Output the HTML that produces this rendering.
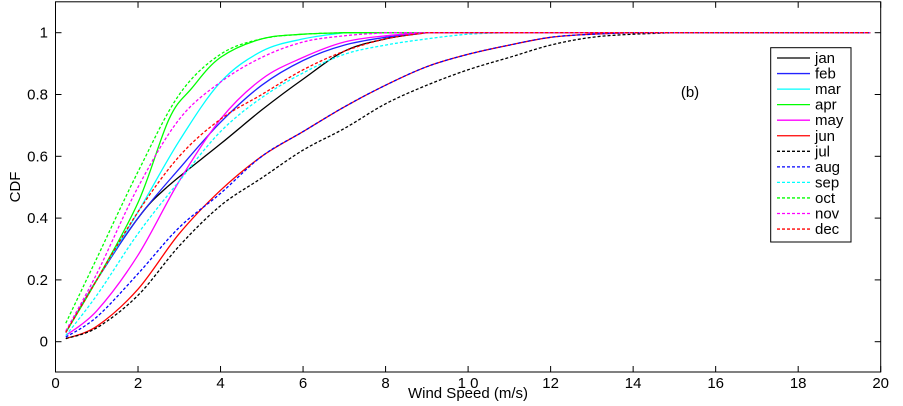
<!DOCTYPE html>
<html><head><meta charset="utf-8"><style>
html,body{margin:0;padding:0;background:#fff;}
svg{display:block;font-family:"Liberation Sans",Arial,sans-serif;}
</style></head><body>
<svg id="s" width="903" height="406" viewBox="0 0 903 406" xmlns="http://www.w3.org/2000/svg">
<rect x="0" y="0" width="903" height="406" fill="#fff"/>
<g id="curves"></g>
<rect x="55.5" y="1.8" width="825.2" height="370.2" fill="none" stroke="#000" stroke-width="1"/>
<g id="ticks" stroke="#000" stroke-width="1"></g>
<g id="labels" font-size="15" fill="#000"></g>
<text x="468" y="398" font-size="15" text-anchor="middle">Wind Speed (m/s)</text>
<text transform="translate(20,187) rotate(-90)" font-size="15" text-anchor="middle">CDF</text>
<text x="690" y="97" font-size="15" text-anchor="middle">(b)</text>
<rect x="770.7" y="47.7" width="80.3" height="194.3" fill="#fff" stroke="#000" stroke-width="1"/>
<g id="legend" font-size="15"></g>
</svg>
<script>
var X=function(v){return 55.5+v*41.26;}, Y=function(v){return 341.7-v*309;};
var NS="http://www.w3.org/2000/svg";
function el(p,t,a,txt){var e=document.createElementNS(NS,t);for(var k in a)e.setAttribute(k,a[k]);if(txt!=null)e.textContent=txt;p.appendChild(e);return e;}
var tk=document.getElementById('ticks'),lb=document.getElementById('labels');
for(var i=0;i<=20;i+=2){var x=X(i);el(tk,'line',{x1:x,y1:372,x2:x,y2:366});el(tk,'line',{x1:x,y1:1.8,x2:x,y2:7.8});el(lb,'text',{x:x,y:388,'text-anchor':'middle'},i==10?'1 0':String(i));}
for(var j=0;j<=5;j++){var v=j*0.2,y=Y(v);el(tk,'line',{x1:55.5,y1:y,x2:61.5,y2:y});el(tk,'line',{x1:880.7,y1:y,x2:874.7,y2:y});el(lb,'text',{x:48,y:y+5,'text-anchor':'end'},j==0?'0':j==5?'1':v.toFixed(1));}
var S=[
['jan','#000',0,[[.25,.03],[1,.2],[2,.4],[2.7,.5],[4,.64],[5,.75],[6,.85],[7,.94],[8,.98],[9,1]]],
['feb','#22f',0,[[.25,.03],[1,.2],[2,.4],[3,.56],[4,.71],[5,.83],[6,.91],[7,.96],[8,.985],[9,1]]],
['mar','#0ff',0,[[.25,.03],[1,.2],[2,.42],[3,.65],[4,.84],[5,.94],[6,.98],[7,1]]],
['apr','#0f0',0,[[.25,.03],[1,.2],[2,.45],[2.75,.72],[3.3,.82],[4,.92],[5,.98],[6,.995],[7,1]]],
['may','#f0f',0,[[.25,.02],[1,.1],[2,.28],[3,.52],[4,.72],[5,.85],[6,.92],[7,.97],[8,.99],[9,1]]],
['jun','#f00',0,[[.25,.01],[1,.05],[2,.17],[3,.35],[4,.49],[5,.6],[6,.68],[7,.76],[8,.83],[9,.89],[10,.93],[11,.96],[12,.985],[13,.995],[14,1]]],
['jul','#000',1,[[.25,.01],[1,.045],[2,.15],[3,.31],[4,.44],[5,.53],[6,.62],[7,.69],[8,.77],[9,.83],[10,.88],[11,.92],[12,.96],[13,.985],[14,.995],[15,1]]],
['aug','#00f',1,[[.25,.015],[1,.08],[2,.22],[3,.37],[4,.48],[5,.6],[6,.68],[7,.76],[8,.83],[9,.89],[10,.93],[11,.96],[12,.985],[13,.995],[14,1]]],
['sep','#0ff',1,[[.25,.02],[1,.15],[2,.35],[3,.52],[4,.68],[5,.79],[6,.87],[7,.93],[8,.96],[9,.98],[10,.995],[11,1]]],
['oct','#0f0',1,[[.25,.06],[1,.27],[2,.55],[3,.8],[4,.93],[5,.98],[6,.995],[7,1]]],
['nov','#f0f',1,[[.25,.035],[1,.22],[2,.5],[3,.72],[4,.84],[5,.92],[6,.97],[7,.99],[8,1]]],
['dec','#f00',1,[[.25,.03],[1,.2],[2,.42],[3,.6],[4,.72],[5,.8],[6,.88],[7,.94],[8,.98],[9,1]]]];
var cg=document.getElementById('curves'),lg=document.getElementById('legend');
function smooth(P){var d='M'+P[0][0].toFixed(1)+','+P[0][1].toFixed(1);
for(var i=0;i<P.length-1;i++){var p0=P[i>0?i-1:i],p1=P[i],p2=P[i+1],p3=P[i+2<P.length?i+2:i+1];
var c1x=p1[0]+(p2[0]-p0[0])/6,c1y=p1[1]+(p2[1]-p0[1])/6,c2x=p2[0]-(p3[0]-p1[0])/6,c2y=p2[1]-(p3[1]-p1[1])/6;
c1y=Math.max(c1y,Y(1));c2y=Math.max(c2y,Y(1));
d+=' C'+c1x.toFixed(1)+','+c1y.toFixed(1)+' '+c2x.toFixed(1)+','+c2y.toFixed(1)+' '+p2[0].toFixed(1)+','+p2[1].toFixed(1);}
return d;}
S.forEach(function(s,i){var p=s[3].map(function(q){return [X(q[0]),Y(q[1])];});
var d=smooth(p)+' L'+X(19.75).toFixed(1)+','+Y(1).toFixed(1);
var a={d:d,fill:'none',stroke:s[1],'stroke-width':1.3};if(s[2])a['stroke-dasharray']='3,2';el(cg,'path',a);
var y=58+i*15.55;var b={x1:777,y1:y,x2:810,y2:y,stroke:s[1],'stroke-width':1.3};if(s[2])b['stroke-dasharray']='3,2';el(lg,'line',b);
el(lg,'text',{x:815,y:y+5},s[0]);});
</script>
</body></html>
